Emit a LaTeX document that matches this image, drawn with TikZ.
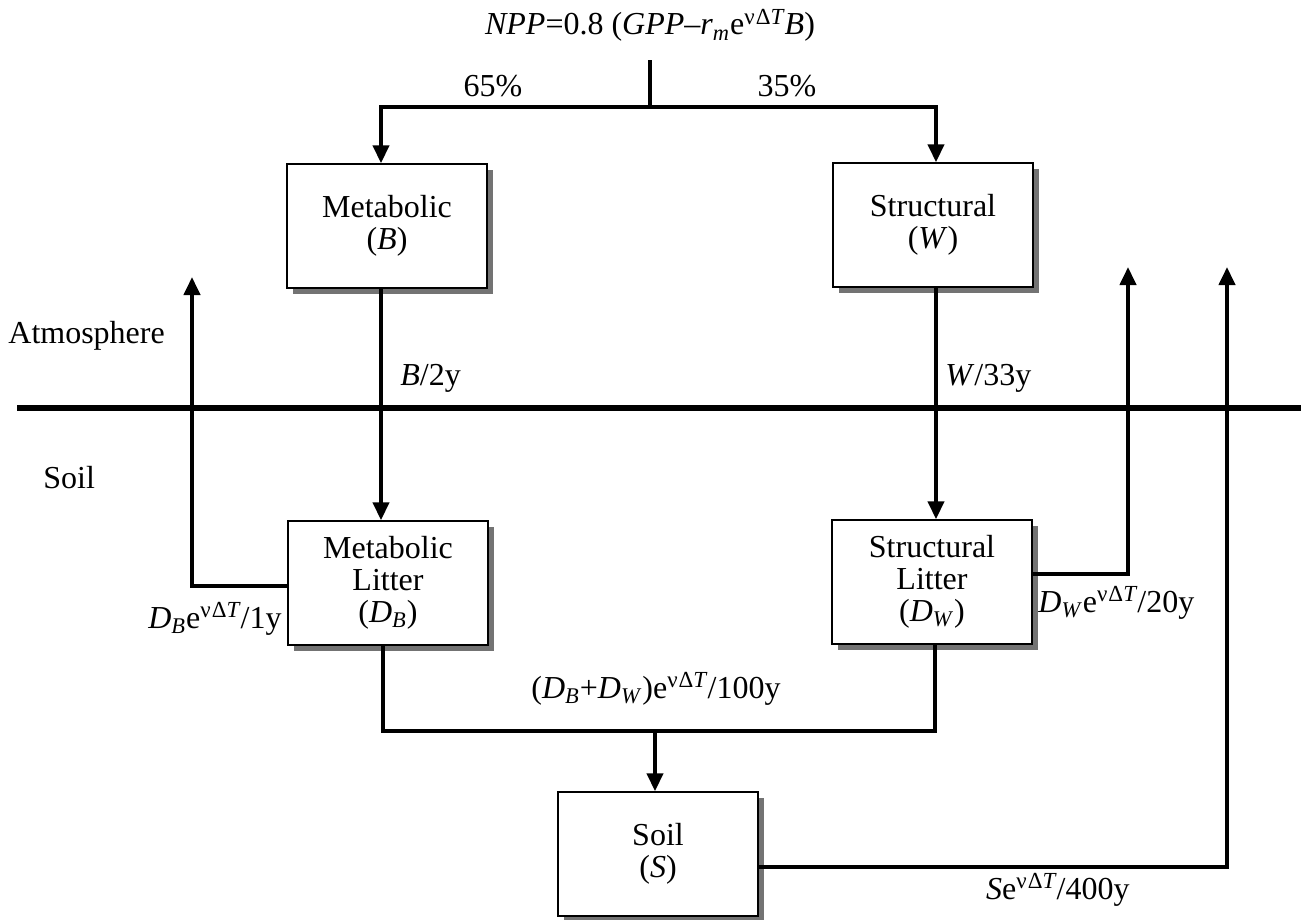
\documentclass[tikz,border=0pt]{standalone}
\usepackage{fontspec}
\setmainfont{Liberation Serif}
\usetikzlibrary{arrows.meta,shadows}

\tikzset{
  pool/.style={draw, fill=white, line width=0.7pt, minimum width=100pt, minimum height=62pt,
    inner sep=0pt, align=center, font=\fontsize{16}{16}\selectfont,
    general shadow={fill=black!55, shadow xshift=3pt, shadow yshift=-3pt}},
  lbl/.style={inner sep=0pt, font=\fontsize{16}{16}\selectfont},
  link/.style={line width=2pt},
  flow/.style={line width=2pt, -{Triangle[width=8pt,length=9pt]}}
}
\newcommand{\warm}{e\raisebox{0.33em}{\fontsize{11.5}{11.5}\selectfont ν\kern0.5ptΔ\textit{T}}}

\begin{document}
\begin{tikzpicture}[x=0.5pt, y=-0.5pt]
        \useasboundingbox (0,0) rectangle (1301,920);

        % Pools
        \node[pool] at (387, 226)  (met)  {Metabolic\\(\textit{B})};
        \node[pool] at (933, 225)  (str)  {Structural\\(\textit{W})};
        \node[pool] at (388, 583)  (metl) {Metabolic\\Litter\\(\textit{D}\textsubscript{\textit{B}})};
        \node[pool] at (932, 582)  (strl) {Structural\\Litter\\(\textit{D}\textsubscript{\textit{W}})};
        \node[pool] at (658, 854)  (soil) {Soil\\(\textit{S})};

        % Labels
        \node[lbl, anchor=base] at (650, 35)  (npp) {\textit{NPP}=0.8 (\textit{GPP}–\textit{r}\textsubscript{\textit{m}}\warm\textit{B})};
        \node[lbl, anchor=base] at (493, 97)  (pmet) {65\%};
        \node[lbl, anchor=base] at (787, 97)  (pstr) {35\%};
        \node[lbl, anchor=base west] at (400, 385)  (rmet) {\textit{B}/2y};
        \node[lbl, anchor=base west] at (945, 385)  (rstr) {\textit{W}/33y};
        \node[lbl, anchor=base west] at (8, 343)    (atm)  {Atmosphere};
        \node[lbl, anchor=base west] at (43, 488)   (grd)  {Soil};
        \node[lbl, anchor=base east] at (282, 628)  (rmetl) {\textit{D}\textsubscript{\textit{B}}\warm/1y};
        \node[lbl, anchor=base west] at (1038, 612) (rstrl) {\textit{D}\textsubscript{\textit{W}}\warm/20y};
        \node[lbl, anchor=base] at (656, 698)       (rlit) {(\textit{D}\textsubscript{\textit{B}}+\textit{D}\textsubscript{\textit{W}})\warm/100y};
        \node[lbl, anchor=base east] at (1130, 899) (rsoil) {\textit{S}\warm/400y};

        % Junctions and outlets
        \coordinate (split) at (650, 107);
        \coordinate (merge) at (655, 731);
        \coordinate (outB) at (192, 277);
        \coordinate (outW) at (1128, 267);
        \coordinate (outS) at (1227, 267);

        % Atmosphere / soil boundary
        \draw[line width=2.6pt] (17, 408) -- (1301, 408);

        % Flows
        \draw[link] ([yshift=-9pt]npp.south) -- (split);
        \draw[flow] (split) -| ([xshift=-3pt]met.north);
        \draw[flow] (split) -| ([xshift=1.5pt]str.north);
        \draw[flow] ([xshift=-3pt]met.south) -- ([xshift=-3pt]met.south |- metl.north);
        \draw[flow] ([xshift=1.5pt]str.south) -- ([xshift=1.5pt]str.south |- strl.north);
        \draw[flow] ([yshift=-1.5pt]metl.west) -| (outB);
        \draw[flow] ([yshift=4pt]strl.east) -| (outW);
        \draw[flow] ([yshift=-6.5pt]soil.east) -| (outS);
        \draw[link] ([xshift=-2.5pt]metl.south) |- (merge) -| ([xshift=1.5pt]strl.south);
        \draw[flow] (merge) -- (merge |- soil.north);

    \end{tikzpicture}
\end{document}
